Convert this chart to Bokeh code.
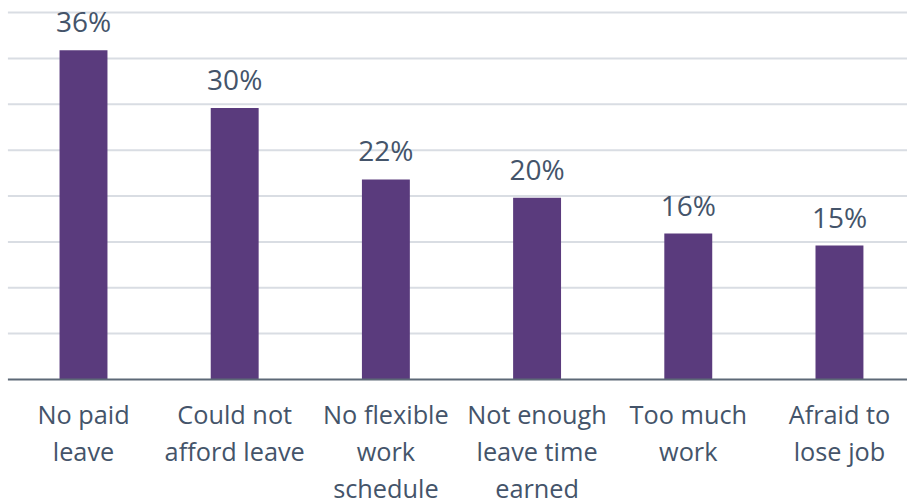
from bokeh.plotting import figure
from bokeh.models import Range1d, ColumnDataSource
from bokeh.core.properties import value
from bokeh.embed import file_html
from bokeh.resources import INLINE

categories = ["No paid\nleave", "Could not\nafford leave", "No flexible\nwork\nschedule",
              "Not enough\nleave time\nearned", "Too much\nwork", "Afraid to\nlose job"]
values = [35.9, 29.6, 21.8, 19.8, 15.9, 14.6]
value_labels = ["36%", "30%", "22%", "20%", "16%", "15%"]
grid_ticks = [5, 10, 15, 20, 25, 30, 35, 40]

FONT = "Open Sans"
TEXT_COLOR = "#44546A"
BAR_COLOR = "#5A3B7D"

xs = list(range(len(categories)))
src = ColumnDataSource(dict(x=xs, top=values, lab=value_labels, cat=categories,
                            base=[0] * len(xs)))

p = figure(width=907, height=500, output_backend="svg", toolbar_location=None,
           x_range=Range1d(-0.549, 5.45), y_range=Range1d(-13.19, 41.31),
           min_border=0, min_border_left=0, min_border_right=0,
           min_border_top=0, min_border_bottom=0)
p.axis.visible = False
p.grid.visible = False
p.outline_line_color = None
p.background_fill_color = "white"
p.border_fill_color = "white"

# gridlines
p.segment(x0=[-0.5] * len(grid_ticks), x1=[5.5] * len(grid_ticks),
          y0=grid_ticks, y1=grid_ticks, line_color="#D9DDE3", line_width=2)

# bars
p.vbar(x="x", top="top", bottom="base", width=0.317, source=src,
       fill_color=BAR_COLOR, line_color=None)

# baseline axis
p.segment(x0=[-0.5], x1=[5.5], y0=[0], y1=[0], line_color="#5D6977", line_width=2)

# value labels
p.text(x="x", y="top", text="lab", source=src, text_align="center",
       text_baseline="alphabetic", y_offset=-29, text_font=value(FONT),
       text_font_size="28px", text_color=TEXT_COLOR)

# category labels
p.text(x="x", y=-1.86, text="cat", source=src, text_align="center",
       text_baseline="top", text_font=value(FONT), text_font_size="25.3px",
       text_color=TEXT_COLOR, text_line_height=1.1)

open("out.html", "w").write(file_html(p, INLINE))
